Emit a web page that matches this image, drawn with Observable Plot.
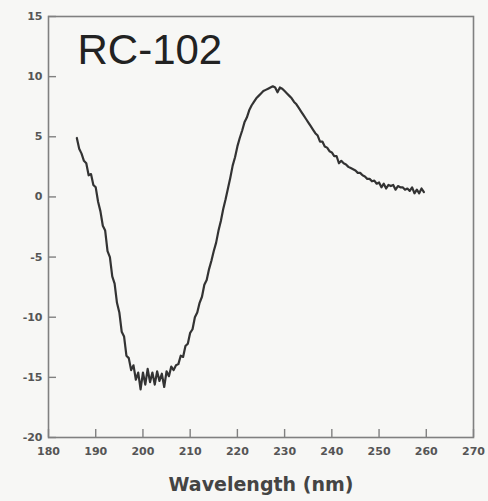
<!DOCTYPE html>
<html>
<head>
<meta charset="utf-8">
<script src="https://cdn.jsdelivr.net/npm/d3@7"></script>
<script src="https://cdn.jsdelivr.net/npm/@observablehq/plot@0.6"></script>
<style>
  html, body { margin: 0; padding: 0; background: #f7f7f5; }
  #chart { width: 488px; height: 501px; }
</style>
</head>
<body>
<div id="chart"></div>
<script>
const title = "RC-102";
const xLabel = "Wavelength (nm)";
const xTicks = [180, 190, 200, 210, 220, 230, 240, 250, 260, 270];
const yTicks = [-20, -15, -10, -5, 0, 5, 10, 15];

const wavelength = [
  186, 186.5, 187, 187.5, 188, 188.5, 189, 189.5, 190, 190.5,
  191, 191.5, 192, 192.5, 193, 193.5, 194, 194.5, 195, 195.5,
  196, 196.5, 197, 197.5, 198, 198.5, 199, 199.5, 200, 200.5,
  201, 201.5, 202, 202.5, 203, 203.5, 204, 204.5, 205, 205.5,
  206, 206.5, 207, 207.5, 208, 208.5, 209, 209.5, 210, 210.5,
  211, 211.5, 212, 212.5, 213, 213.5, 214, 214.5, 215, 215.5,
  216, 216.5, 217, 217.5, 218, 218.5, 219, 219.5, 220, 220.5,
  221, 221.5, 222, 222.5, 223, 223.5, 224, 224.5, 225, 225.5,
  226, 226.5, 227, 227.5, 228, 228.5, 229, 229.5, 230, 230.5,
  231, 231.5, 232, 232.5, 233, 233.5, 234, 234.5, 235, 235.5,
  236, 236.5, 237, 237.5, 238, 238.5, 239, 239.5, 240, 240.5,
  241, 241.5, 242, 242.5, 243, 243.5, 244, 244.5, 245, 245.5,
  246, 246.5, 247, 247.5, 248, 248.5, 249, 249.5, 250, 250.5,
  251, 251.5, 252, 252.5, 253, 253.5, 254, 254.5, 255, 255.5,
  256, 256.5, 257, 257.5, 258, 258.5, 259, 259.5
];
const signal = [
  4.9, 4.0, 3.6, 3.0, 2.8, 1.8, 1.9, 1.0, 0.8, -0.4,
  -1.2, -2.4, -2.8, -4.5, -5.0, -6.6, -7.2, -8.8, -9.6, -11.2,
  -11.6, -13.2, -13.4, -14.4, -14.0, -15.2, -14.6, -16.0, -14.6, -15.6,
  -14.3, -15.4, -14.6, -15.6, -14.5, -15.3, -14.7, -15.8, -14.5, -14.9,
  -14.1, -14.4, -14.0, -13.9, -13.2, -13.3, -12.4, -12.2, -11.3, -11.0,
  -10.0, -9.6, -8.8, -8.3, -7.3, -6.9, -6.0, -5.3, -4.5, -3.8,
  -2.8, -2.0, -1.0, -0.2, 0.7, 1.6, 2.6, 3.3, 4.2, 4.9,
  5.5, 6.2, 6.6, 7.2, 7.6, 7.9, 8.2, 8.4, 8.6, 8.8,
  8.9, 9.0, 9.1, 9.2, 9.1, 8.7, 9.1, 9.0, 8.8, 8.6,
  8.4, 8.2, 7.9, 7.7, 7.4, 7.1, 6.8, 6.5, 6.2, 5.9,
  5.6, 5.3, 5.1, 4.6, 4.6, 4.2, 4.1, 3.8, 3.7, 3.4,
  3.4, 2.8, 3.0, 2.8, 2.7, 2.5, 2.4, 2.3, 2.2, 2.0,
  2.0, 1.8, 1.7, 1.5, 1.5, 1.3, 1.35, 1.1, 1.2, 0.8,
  1.1, 0.7, 1.0, 0.9, 1.0, 0.6, 0.9, 0.8, 0.8, 0.6,
  0.7, 0.5, 0.8, 0.3, 0.6, 0.3, 0.7, 0.4
];

const data = wavelength.map((w, i) => ({w, v: signal[i]}));

const tickFont = "'DejaVu Sans', Verdana, sans-serif";
const W = 488, H = 501, mL = 48, mR = 15, mT = 16, mB = 64, tickLen = 8;
const frameW = W - mL - mR, frameH = H - mT - mB;

const chart = Plot.plot({
  width: W,
  height: H,
  marginLeft: mL,
  marginRight: mR,
  marginTop: mT,
  marginBottom: mB,
  style: {background: "#f7f7f5", color: "#555"},
  x: {domain: [180, 270]},
  y: {domain: [-20, 15]},
  marks: [
    // inward tick marks
    Plot.ruleX(xTicks, {x: d => d, insetTop: frameH - tickLen, stroke: "#808080", strokeWidth: 1.4}),
    Plot.ruleY(yTicks, {y: d => d, insetRight: frameW - tickLen, stroke: "#808080", strokeWidth: 1.4}),
    Plot.frame({stroke: "#808080", strokeWidth: 1.6}),
    // tick labels
    Plot.axisX({ticks: xTicks, tickFormat: d => String(d), tickSize: 0, tickPadding: 10,
      fill: "#555", fontSize: 11, fontWeight: "bold", fontFamily: tickFont, label: null}),
    Plot.axisY({ticks: yTicks, tickFormat: d => String(d), tickSize: 0, tickPadding: 6,
      fill: "#555", fontSize: 11, fontWeight: "bold", fontFamily: tickFont, label: null}),
    Plot.line(data, {x: "w", y: "v", stroke: "#333", strokeWidth: 2.2, strokeLinejoin: "round"}),
    Plot.text([title], {frameAnchor: "top-left", dx: 29, dy: 18, textAnchor: "start",
      fontSize: 42, fontFamily: "'Liberation Sans', Arial, sans-serif", fill: "#222"}),
    Plot.text([xLabel], {frameAnchor: "bottom", dy: 53, textAnchor: "middle",
      fontSize: 19, fontWeight: "bold", fontFamily: tickFont, fill: "#444"})
  ]
});
document.getElementById("chart").appendChild(chart);
</script>
</body>
</html>
